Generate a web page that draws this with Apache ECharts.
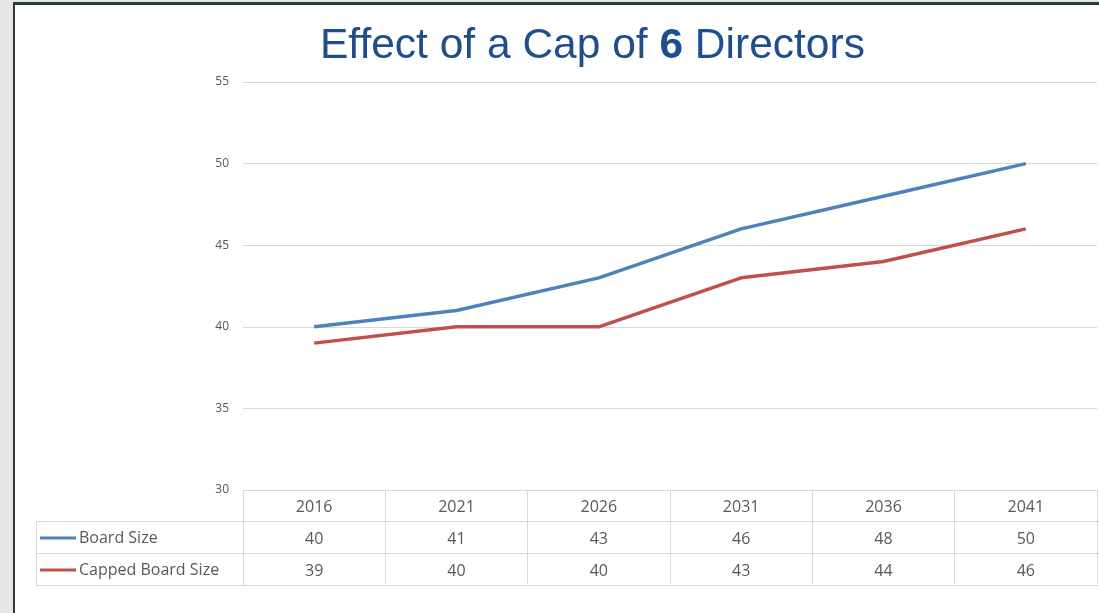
<!DOCTYPE html>
<html>
<head>
<meta charset="utf-8">
<script src="https://cdn.jsdelivr.net/npm/echarts@6/dist/echarts.min.js"></script>
<style>
  html, body { margin: 0; padding: 0; background: #e6e6e6; }
  #frame { position: absolute; left: 13px; top: 2px; width: 1086px; height: 611px;
           background: #fff; border-left: 2px solid #2e3b3b; border-top: 3px solid #2e3b3b; box-sizing: border-box; }
  #canvas { position: absolute; left: 0; top: 0; width: 1099px; height: 613px; }
</style>
</head>
<body>
<div id="frame"></div>
<div id="canvas"></div>
<script>
    // data
    var years = ['2016', '2021', '2026', '2031', '2036', '2041'];
    var boardSize = [40, 41, 43, 46, 48, 50];
    var cappedSize = [39, 40, 40, 43, 44, 46];
    var yTicks = [30, 35, 40, 45, 50, 55];

    var myChart = echarts.init(document.getElementById('canvas'));

    option = {
        animation: false,
        title: {
            left: 315,
            top: 20,
            text: '{n|Effect of a Cap of }{b|6}{n| Directors}',
            textStyle: {
                fontWeight: 'normal',
                rich: {
                    n: { fontFamily: 'Liberation Sans', fontSize: 42.5, fontWeight: 'normal', color: '#1f4e8c' },
                    b: { fontFamily: 'Liberation Sans', fontSize: 42.5, fontWeight: 'bold', color: '#1f4e8c' }
                }
            }
        },
        legend: {
            orient: 'vertical',
            left: 35,
            top: 525,
            itemGap: 16,
            itemWidth: 36,
            itemHeight: 3,
            icon: 'rect',
            textStyle: { color: '#595959', fontSize: 16, fontFamily: 'Open Sans', padding: [0, 0, 0, -2] },
            data: ['Board Size', 'Capped Board Size']
        },
        grid: {
            left: 243,
            right: 2,
            top: 82,
            bottom: 123
        },
        xAxis: [
            {
                type: 'category',
                data: years,
                axisLine: { show: true, lineStyle: { color: '#d9d9d9', width: 1 } },
                axisTick: { show: true, length: 94, lineStyle: { color: '#d9d9d9', width: 1 } },
                axisLabel: { margin: 9, color: '#595959', fontSize: 16, fontFamily: 'Open Sans' }
            },
            {
                type: 'category',
                position: 'bottom',
                offset: 32,
                data: boardSize.map(String),
                axisLine: { show: false },
                axisTick: { show: false },
                axisLabel: { margin: 9, color: '#595959', fontSize: 16, fontFamily: 'Open Sans' }
            },
            {
                type: 'category',
                position: 'bottom',
                offset: 64,
                data: cappedSize.map(String),
                axisLine: { show: false },
                axisTick: { show: false },
                axisLabel: { margin: 9, color: '#595959', fontSize: 16, fontFamily: 'Open Sans' }
            }
        ],
        yAxis: {
            type: 'value',
            min: yTicks[0],
            max: yTicks[yTicks.length - 1],
            interval: 5,
            axisLine: { show: false },
            axisTick: { show: false },
            axisLabel: { margin: 14, color: '#595959', fontSize: 12, fontFamily: 'Open Sans' },
            splitLine: { lineStyle: { color: '#d9d9d9', width: 1 } }
        },
        graphic: [
            { type: 'line', shape: { x1: 36, y1: 521.5, x2: 1099, y2: 521.5 }, style: { stroke: '#d9d9d9', lineWidth: 1 } },
            { type: 'line', shape: { x1: 36, y1: 553.5, x2: 1099, y2: 553.5 }, style: { stroke: '#d9d9d9', lineWidth: 1 } },
            { type: 'line', shape: { x1: 36, y1: 585.5, x2: 1099, y2: 585.5 }, style: { stroke: '#d9d9d9', lineWidth: 1 } },
            { type: 'line', shape: { x1: 36.5, y1: 521, x2: 36.5, y2: 586 }, style: { stroke: '#d9d9d9', lineWidth: 1 } },
            { type: 'line', shape: { x1: 243.5, y1: 490, x2: 243.5, y2: 586 }, style: { stroke: '#d9d9d9', lineWidth: 1 } }
        ],
        series: [
            {
                name: 'Board Size',
                type: 'line',
                symbol: 'none',
                itemStyle: { color: '#4f81bd' },
                lineStyle: { color: '#4f81bd', width: 3.5 },
                data: boardSize
            },
            {
                name: 'Capped Board Size',
                type: 'line',
                symbol: 'none',
                itemStyle: { color: '#c0504d' },
                lineStyle: { color: '#c0504d', width: 3.5 },
                data: cappedSize
            }
        ]
    };

    myChart.setOption(option);
</script>
</body>
</html>
